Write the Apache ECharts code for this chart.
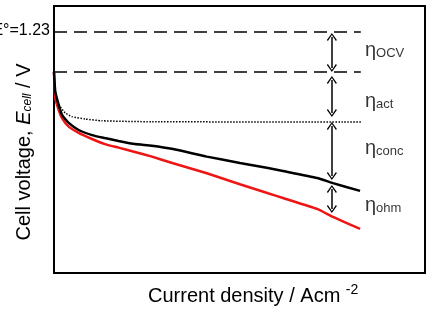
<!DOCTYPE html>
<html>
<head>
<meta charset="utf-8">
<script src="https://cdn.jsdelivr.net/npm/echarts@6/dist/echarts.min.js"></script>
<style>
  html, body { margin: 0; padding: 0; background: #fff; }
  #chart { width: 430px; height: 310px; }
</style>
</head>
<body>
<div id="chart"></div>
<script>
// current density (normalised 0..1) and cell voltage
let currentDensity = [0, 0.0035, 0.0127, 0.0216, 0.0396, 0.0666, 0.1024, 0.137, 0.174, 0.218, 0.264, 0.321, 0.412, 0.501, 0.577, 0.617, 0.709, 0.752, 0.825];
let voltageReal = [1.026, 0.925, 0.858, 0.807, 0.766, 0.730, 0.704, 0.689, 0.674, 0.658, 0.650, 0.633, 0.594, 0.562, 0.536, 0.521, 0.485, 0.459, 0.419];
let voltageOhm = [1.026, 0.893, 0.832, 0.791, 0.747, 0.715, 0.684, 0.658, 0.640, 0.618, 0.594, 0.560, 0.509, 0.453, 0.407, 0.383, 0.327, 0.286, 0.225];
let actX = [0, 0.0035, 0.0127, 0.030, 0.0485, 0.0836, 0.129, 0.264, 0.827];
let actV = [1.026, 0.925, 0.860, 0.817, 0.798, 0.786, 0.777, 0.772, 0.771];
let eRev = 1.23;
let eOcv = 1.026;
let refEnd = 0.827;
// overpotential arrows: [x, top, bottom]
let arrowX = 0.749;
let arrowSpans = [[1.205, 1.046], [0.985, 0.817], [0.750, 0.495], [0.429, 0.327]];
let etaNames = ['OCV', 'act', 'conc', 'ohm'];
let etaY = [1.135, 0.875, 0.635, 0.345];
let etaX = 0.838;

function pairs(xs, ys){
  let out = [];
  for(let i = 0; i < xs.length; i++){
    out.push([xs[i], ys[i]]);
  }
  return out;
}

let chevron = 'path://M5,0 L10,7 L9,8 L5,2 L1,8 L0,7 Z';
let arrowLines = [];
for(let i = 0; i < arrowSpans.length; i++){
  arrowLines.push([{coord: [arrowX, arrowSpans[i][0]]}, {coord: [arrowX, arrowSpans[i][1]]}]);
}
let etaData = [];
for(let i = 0; i < etaNames.length; i++){
  etaData.push([etaX, etaY[i], etaNames[i]]);
}

const font = '"Liberation Sans", Arial, sans-serif';
const chart = echarts.init(document.getElementById('chart'));
let option = {
  backgroundColor: '#fff',
  animation: false,
  grid: {
    left: 54, right: 5, top: 6, bottom: 37,
    show: true,
    borderColor: '#000',
    borderWidth: 2,
    outerBoundsMode: 'none'
  },
  xAxis: {
    type: 'value', min: 0, max: 1,
    axisLine: {show: false}, axisTick: {show: false},
    axisLabel: {show: false}, splitLine: {show: false}
  },
  yAxis: {
    type: 'value', min: 0, max: 1.363,
    axisLine: {show: false}, axisTick: {show: false},
    axisLabel: {show: false}, splitLine: {show: false}
  },
  series: [
    {
      type: 'line', name: 'rev', symbol: 'none',
      data: [[0, eRev], [refEnd, eRev]],
      lineStyle: {color: '#000', width: 1.5, type: [13, 7]}
    },
    {
      type: 'line', name: 'ocv', symbol: 'none',
      data: [[0, eOcv], [refEnd, eOcv]],
      lineStyle: {color: '#000', width: 1.5, type: [13, 7]}
    },
    {
      type: 'line', name: 'act', symbol: 'none', smooth: 0.15,
      data: pairs(actX, actV),
      lineStyle: {color: '#000', width: 1.5, type: [1.5, 1.5]}
    },
    {
      type: 'line', name: 'ohm', symbol: 'none', smooth: 0.15,
      data: pairs(currentDensity, voltageOhm),
      lineStyle: {color: '#ee1515', width: 2.5}
    },
    {
      type: 'line', name: 'real', symbol: 'none', smooth: 0.15,
      data: pairs(currentDensity, voltageReal),
      lineStyle: {color: '#000', width: 2.5},
      markLine: {
        silent: true,
        symbol: [chevron, chevron],
        symbolSize: [10, 8],
        label: {show: false},
        lineStyle: {color: '#000', width: 1.5, type: 'solid'},
        data: arrowLines
      }
    },
    {
      type: 'scatter', name: 'eta', symbolSize: 0,
      data: etaData,
      label: {
        show: true, position: 'right', distance: 0,
        formatter: function(p){ return '{e|η}{s|' + p.data[2] + '}'; },
        rich: {
          e: {fontFamily: font, fontSize: 20, color: '#000'},
          s: {fontFamily: font, fontSize: 13, color: '#000', padding: [6, 0, 0, 0]}
        }
      }
    }
  ],
  graphic: [
    {
      type: 'text', x: 50, y: 31,
      style: {text: 'E°=1.23', font: '16px ' + font, fill: '#000', align: 'right', verticalAlign: 'middle'}
    },
    {
      type: 'text', x: 24, y: 152, rotation: Math.PI / 2,
      style: {
        text: 'Cell voltage, {i|E}{s|cell} / V',
        font: '20px ' + font, fill: '#000', align: 'center', verticalAlign: 'middle',
        rich: {
          i: {font: 'italic 20px ' + font, fill: '#000'},
          s: {font: 'italic 12px ' + font, fill: '#000', padding: [8, 0, 0, 0]}
        }
      }
    },
    {
      type: 'text', x: 148, y: 296,
      style: {
        text: 'Current density / Acm {p|-2}',
        font: '20px ' + font, fill: '#000', align: 'left', verticalAlign: 'middle',
        rich: {
          p: {font: '14px ' + font, fill: '#000', padding: [0, 0, 12, 0]}
        }
      }
    }
  ]
};
chart.setOption(option);
window.addEventListener('resize', function(){ chart.resize(); });
</script>
</body>
</html>
